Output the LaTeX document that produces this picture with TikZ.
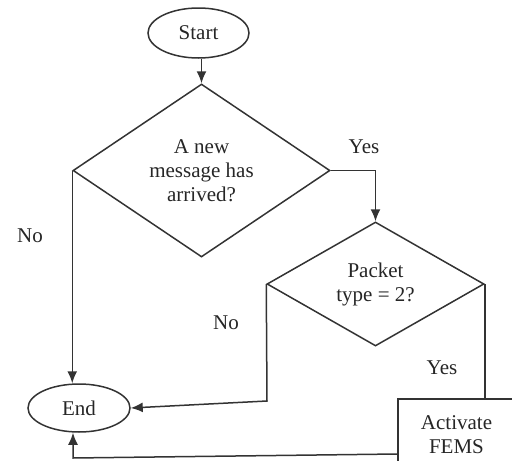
\documentclass[tikz,border=0pt]{standalone}
\usepackage{fontspec}
\setmainfont{Liberation Serif}
\usetikzlibrary{shapes.geometric,arrows.meta}
\begin{document}
\begin{tikzpicture}[x=1pt,y=-1pt,
  every node/.style={font=\fontsize{21}{24}\selectfont, text=black!85},
  line/.style={draw=black!80, line width=1.5pt},
  arr/.style={line, -{Latex[length=12pt,width=10pt]}},
  term/.style={ellipse, line, inner sep=0pt, align=center},
  decision/.style={diamond, line, inner sep=0pt, align=center},
  proc/.style={rectangle, line, inner sep=0pt, align=center},
  lbl/.style={inner sep=0pt}]
\useasboundingbox (0,0) rectangle (512,461);
\node[term, minimum width=101pt, minimum height=50pt] (start) at (198.5,33) {Start};
\node[decision, minimum width=257pt, minimum height=173pt] (d1) at (201.5,170.5) {A new\\message has\\arrived?};
\node[decision, minimum width=217pt, minimum height=124pt] (d2) at (375.5,284) {Packet\\type = 2?};
\node[term, minimum width=102pt, minimum height=48pt] (end) at (79,408) {End};
\node[proc, minimum width=117pt, minimum height=71pt] (act) at (456.5,434.5) {Activate\\FEMS};
\node[lbl] (yes1) at (364,147) {Yes};
\node[lbl] (no1) at (30,236) {No};
\node[lbl] (no2) at (226,323) {No};
\node[lbl] (yes2) at (442,368) {Yes};
\coordinate (c1) at (267,401);
\coordinate (c2) at (73,458);
\draw[arr] (start.south -| d1.north) -- (d1.north);
\draw[arr] (d1.east) -| (d2.north);
\draw[arr] (d1.west) -- (d1.west |- end.north);
\draw[arr] (d2.west) -- (c1) -- (end.east);
\draw[line] (d2.east) -- (d2.east |- act.north);
\draw[arr] ([yshift=-19.5pt]act.west) -- (c2) -- (c2 |- end.south);
\end{tikzpicture}
\end{document}
